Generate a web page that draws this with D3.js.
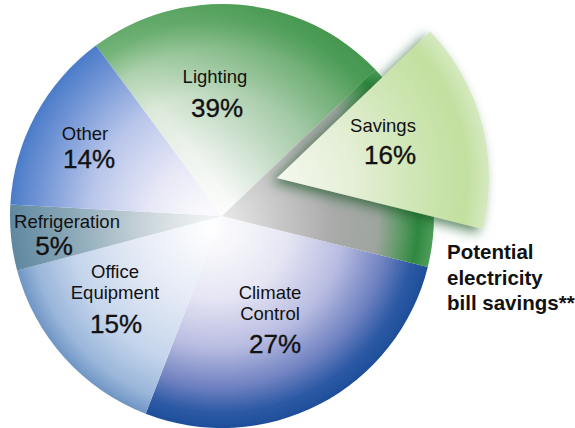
<!DOCTYPE html>
<html><head><meta charset="utf-8">
<script src="https://cdn.jsdelivr.net/npm/d3@7"></script>
<style>html,body{margin:0;padding:0;background:#fff;}svg{display:block;}</style>
</head><body>
<svg id="chart" width="575" height="428"></svg>
<script>
// ---- data ----
const categories = ["Lighting", "Climate Control", "Office Equipment", "Refrigeration", "Other"];
const values = [39, 27, 15, 5, 14];
const nameLines = [["Lighting"], ["Climate", "Control"], ["Office", "Equipment"], ["Refrigeration"], ["Other"]];
const savingsName = "Savings";
const savingsValue = 16;
const noteLines = ["Potential", "electricity", "bill savings**"];

// ---- layout / style ----
const W = 575, H = 428;
const cx = 222, cy = 216, R = 212;
const startDeg = -36.5;
const explode = [55, -38];
const labelLayout = [
  {x: 215, names: [83], px: 217, py: 117},
  {x: 270, names: [299, 320], px: 275, py: 353},
  {x: 115, names: [278, 299], px: 116, py: 333},
  {x: 67, names: [228], px: 54, py: 255},
  {x: 85, names: [140], px: 89, py: 168}
];
const savingsLayout = {x: 383, ny: 132, px: 390, py: 164};
const gradStops = [
  [[0, "#ffffff"], [0.35, "#eef3ee"], [0.6, "#dce9da"], [0.8, "#aed2ad"], [0.93, "#74b479"], [1, "#68ad6e"]],
  [[0, "#ffffff"], [0.35, "#e6e6f4"], [0.6, "#b8bce1"], [0.8, "#6d80c0"], [0.92, "#2d5aa5"], [1, "#1e4e9a"]],
  [[0, "#ffffff"], [0.4, "#e3e9f5"], [0.7, "#c5d5ec"], [0.9, "#9ab6da"], [1, "#6f95c4"]],
  [[0, "#f4f6f7"], [0.35, "#c6d2d8"], [0.7, "#8aa8b8"], [1, "#5f88a0"]],
  [[0, "#ffffff"], [0.3, "#e9e9f7"], [0.6, "#b9c6ea"], [0.85, "#7396d6"], [1, "#4b7cc9"]]
];
const cavityStops = [[0, "#f2f2f2"], [0.3, "#c9c9c9"], [0.55, "#a9aaa9"], [0.75, "#9ea59f"], [0.85, "#5f9a66"], [0.93, "#2f8840"], [1, "#4e9e58"]];
const savingsStops = [[0, "#f8faf4"], [0.4, "#e4efd6"], [0.7, "#cde5b2"], [0.9, "#c2e09f"], [1, "#d5e9c0"]];

const svg = d3.select("#chart");
const defs = svg.append("defs");
function radial(id, stops) {
  const g = defs.append("radialGradient").attr("id", id)
    .attr("gradientUnits", "userSpaceOnUse").attr("cx", 0).attr("cy", 0).attr("r", R)
    .attr("fx", -12).attr("fy", 12);
  stops.forEach(s => g.append("stop").attr("offset", s[0]).attr("stop-color", s[1]));
}
gradStops.forEach((s, i) => radial("g" + i, s));
radial("gCav", cavityStops);
radial("gSav", savingsStops);
const lin = defs.append("linearGradient").attr("id", "gDark").attr("gradientUnits", "userSpaceOnUse")
  .attr("x1", 20).attr("y1", 0).attr("x2", 160).attr("y2", -110);
lin.append("stop").attr("offset", 0).attr("stop-color", "#2f8a3c").attr("stop-opacity", 0);
lin.append("stop").attr("offset", 1).attr("stop-color", "#2f8a3c").attr("stop-opacity", 0.6);
const f = defs.append("filter").attr("id", "sh").attr("x", "-30%").attr("y", "-30%").attr("width", "160%").attr("height", "160%");
f.append("feDropShadow").attr("dx", -5).attr("dy", 4).attr("stdDeviation", 6)
  .attr("flood-color", "#1e5a28").attr("flood-opacity", 0.7);
const soft = defs.append("filter").attr("id", "soft");
soft.append("feGaussianBlur").attr("stdDeviation", 0.6);

const toRad = d => d * Math.PI / 180;
const pie = d3.pie().sort(null).value(d => d)
  .startAngle(toRad(startDeg)).endAngle(toRad(startDeg) + 2 * Math.PI);
const arcs = pie(values);
const arc = d3.arc().innerRadius(0).outerRadius(R);
const savAngle = savingsValue / 100 * 2 * Math.PI;

const gPie = svg.append("g").attr("transform", `translate(${cx},${cy})`).attr("filter", "url(#soft)");
arcs.forEach((a, i) => {
  const d = Object.assign({}, a);
  if (i === 0) d.endAngle = a.endAngle - savAngle;
  gPie.append("path").attr("d", arc(d)).attr("fill", `url(#g${i})`);
  if (i === 0) gPie.append("path").attr("d", arc(d)).attr("fill", "url(#gDark)");
});
// cavity where savings wedge was removed
const slot = {startAngle: arcs[0].endAngle - savAngle, endAngle: arcs[0].endAngle};
gPie.append("path").attr("d", arc(slot)).attr("fill", "url(#gCav)");

// exploded savings wedge
const gSav = svg.append("g").attr("transform", `translate(${cx + explode[0]},${cy + explode[1]})`);
gSav.append("path").attr("d", arc(slot)).attr("fill", "url(#gSav)").attr("filter", "url(#sh)");

// labels
const font = "'Liberation Sans', Arial, Helvetica, sans-serif";
const gLab = svg.append("g").attr("font-family", font).attr("fill", "#111").attr("text-anchor", "middle");
categories.forEach((c, i) => {
  const L = labelLayout[i];
  nameLines[i].forEach((t, k) => {
    gLab.append("text").attr("x", L.x).attr("y", L.names[k]).attr("font-size", 18.5).text(t);
  });
  gLab.append("text").attr("x", L.px).attr("y", L.py).attr("font-size", 26)
    .attr("stroke", "#111").attr("stroke-width", 0.35).text(values[i] + "%");
});
gLab.append("text").attr("x", savingsLayout.x).attr("y", savingsLayout.ny).attr("font-size", 18.5).text(savingsName);
gLab.append("text").attr("x", savingsLayout.px).attr("y", savingsLayout.py).attr("font-size", 26)
  .attr("stroke", "#111").attr("stroke-width", 0.35).text(savingsValue + "%");

const note = svg.append("text").attr("font-family", font).attr("font-weight", "bold")
  .attr("font-size", 20.5).attr("fill", "#111");
noteLines.forEach((t, k) => note.append("tspan").attr("x", 447).attr("y", [259, 285, 310][k]).text(t));
</script>
</body></html>
